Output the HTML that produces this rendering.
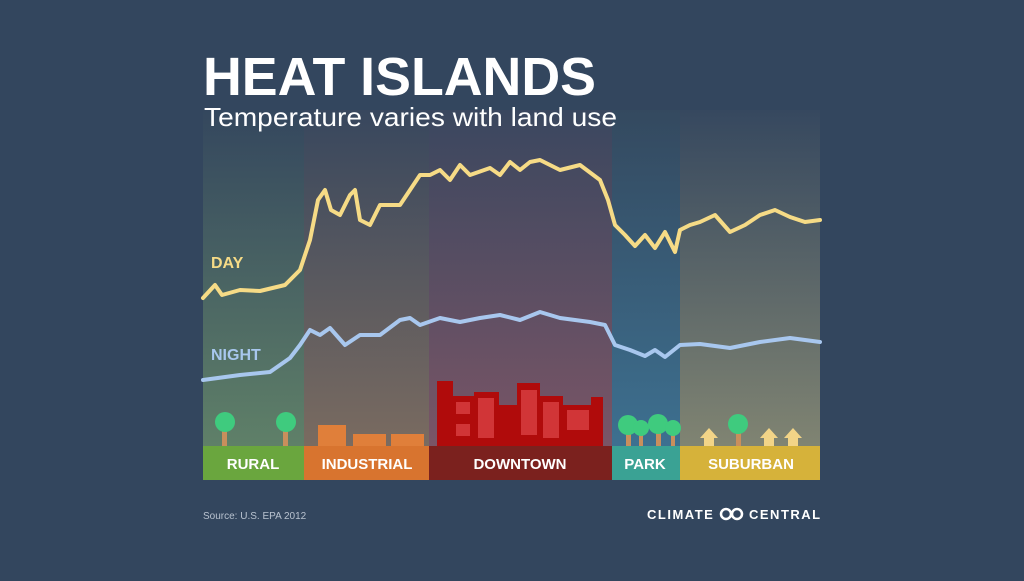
<!DOCTYPE html>
<html><head><style>
body{margin:0;width:1024px;height:576px;background:#33465e;overflow:hidden;font-family:"Liberation Sans",sans-serif}
</style></head><body>
<svg width="1024" height="576" viewBox="0 0 1024 576" xmlns="http://www.w3.org/2000/svg">
<defs>
<linearGradient id="gr" x1="0" y1="0" x2="0" y2="1"><stop offset="0" stop-color="#34475e"/><stop offset="1" stop-color="#5f8068"/></linearGradient>
<linearGradient id="gi" x1="0" y1="0" x2="0" y2="1"><stop offset="0" stop-color="#38475e"/><stop offset="1" stop-color="#7a6b60"/></linearGradient>
<linearGradient id="gd" x1="0" y1="0" x2="0" y2="1"><stop offset="0" stop-color="#3a475f"/><stop offset="1" stop-color="#7a5566"/></linearGradient>
<linearGradient id="gp" x1="0" y1="0" x2="0" y2="1"><stop offset="0" stop-color="#34495f"/><stop offset="1" stop-color="#3d7090"/></linearGradient>
<linearGradient id="gs" x1="0" y1="0" x2="0" y2="1"><stop offset="0" stop-color="#36485f"/><stop offset="1" stop-color="#808472"/></linearGradient>
</defs>
<rect x="203" y="110" width="101" height="336" fill="url(#gr)"/>
<rect x="304" y="110" width="125" height="336" fill="url(#gi)"/>
<rect x="429" y="110" width="183" height="336" fill="url(#gd)"/>
<rect x="612" y="110" width="68" height="336" fill="url(#gp)"/>
<rect x="680" y="110" width="140" height="336" fill="url(#gs)"/>
<rect x="203" y="446" width="101" height="34" fill="#6aa63e"/>
<rect x="304" y="446" width="125" height="34" fill="#d8742f"/>
<rect x="429" y="446" width="183" height="34" fill="#7b211e"/>
<rect x="612" y="446" width="68" height="34" fill="#3aa294"/>
<rect x="680" y="446" width="140" height="34" fill="#d6b23a"/>
<g fill="#fff" font-weight="bold" font-size="15" text-anchor="middle">
<text x="253" y="469">RURAL</text><text x="367" y="469">INDUSTRIAL</text><text x="520" y="469">DOWNTOWN</text><text x="645" y="469">PARK</text><text x="751" y="469">SUBURBAN</text>
</g>
<g fill="#c98f5c"><rect x="222" y="428" width="5" height="18"/><rect x="283" y="428" width="5" height="18"/><rect x="626" y="432" width="5" height="14"/><rect x="639" y="432" width="4" height="14"/><rect x="656" y="432" width="5" height="14"/><rect x="671" y="432" width="4" height="14"/><rect x="736" y="432" width="5" height="14"/></g>
<g fill="#3fcb7e"><circle cx="225" cy="422" r="10"/><circle cx="286" cy="422" r="10"/><circle cx="628" cy="425" r="10"/><circle cx="641" cy="428" r="8"/><circle cx="658" cy="424" r="10"/><circle cx="673" cy="428" r="8"/><circle cx="738" cy="424" r="10"/></g>
<g fill="#f2d487"><polygon points="700,438 709,428 718,438 714,438 714,446 704,446 704,438"/><polygon points="760,438 769,428 778,438 774,438 774,446 764,446 764,438"/><polygon points="784,438 793,428 802,438 798,438 798,446 788,446 788,438"/></g>
<g fill="#e07f3a"><rect x="318" y="425" width="28" height="21"/><rect x="353" y="434" width="33" height="12"/><rect x="391" y="434" width="33" height="12"/></g>
<g fill="#b00b0b"><rect x="437" y="381" width="16" height="65"/><rect x="452" y="396" width="23" height="50"/><rect x="474" y="392" width="25" height="54"/><rect x="496" y="405" width="22" height="41"/><rect x="517" y="383" width="23" height="63"/><rect x="539" y="396" width="24" height="50"/><rect x="563" y="405" width="30" height="41"/><rect x="591" y="397" width="12" height="49"/></g>
<g fill="#e0484a" opacity="0.7"><rect x="478" y="398" width="16" height="40"/><rect x="521" y="390" width="16" height="45"/><rect x="543" y="402" width="16" height="36"/><rect x="567" y="410" width="22" height="20"/><rect x="456" y="402" width="14" height="12"/><rect x="456" y="424" width="14" height="12"/></g>
<path fill="none" stroke="#f6db86" stroke-width="4" stroke-linejoin="round" stroke-linecap="round" d="M203,298 L215,285 L222,295 L240,290 L260,291 L285,285 L300,270 L310,240 L318,200 L325,190 L331,210 L340,215 L350,195 L355,190 L360,220 L370,225 L380,205 L400,205 L410,190 L420,175 L430,175 L440,170 L450,180 L460,165 L470,175 L490,168 L500,175 L510,162 L520,170 L530,162 L540,160 L560,170 L580,165 L600,180 L608,200 L615,225 L625,235 L635,246 L645,235 L655,248 L665,232 L675,252 L680,230 L690,225 L700,222 L715,215 L730,232 L745,225 L760,215 L775,210 L790,217 L805,222 L820,220"/>
<path fill="none" stroke="#a8c7ee" stroke-width="4" stroke-linejoin="round" stroke-linecap="round" d="M203,380 L240,375 L270,372 L290,358 L300,345 L310,330 L320,335 L330,328 L345,345 L360,335 L380,335 L400,320 L410,318 L420,325 L440,318 L460,322 L480,318 L500,315 L520,320 L540,312 L560,318 L590,322 L605,325 L615,345 L630,350 L645,356 L655,350 L665,357 L680,345 L700,344 L730,348 L760,342 L790,338 L820,342"/>
<text x="211" y="268" fill="#f6db86" font-weight="bold" font-size="16">DAY</text>
<text x="211" y="360" fill="#a8c7ee" font-weight="bold" font-size="16">NIGHT</text>
<text x="203" y="95" fill="#fff" font-weight="bold" font-size="54" textLength="393" lengthAdjust="spacingAndGlyphs">HEAT ISLANDS</text>
<text x="204" y="126" fill="#fff" font-size="26" textLength="413" lengthAdjust="spacingAndGlyphs">Temperature varies with land use</text>
<text x="203" y="519" fill="#b8c2cf" font-size="10">Source: U.S. EPA 2012</text>
<text x="647" y="519" fill="#fff" font-weight="bold" font-size="13" letter-spacing="1.5">CLIMATE</text>
<circle cx="726" cy="514" r="5" fill="none" stroke="#fff" stroke-width="2.5"/><circle cx="737" cy="514" r="5" fill="none" stroke="#fff" stroke-width="2.5"/>
<text x="749" y="519" fill="#fff" font-weight="bold" font-size="13" letter-spacing="1.5">CENTRAL</text>
</svg>
</body></html>
